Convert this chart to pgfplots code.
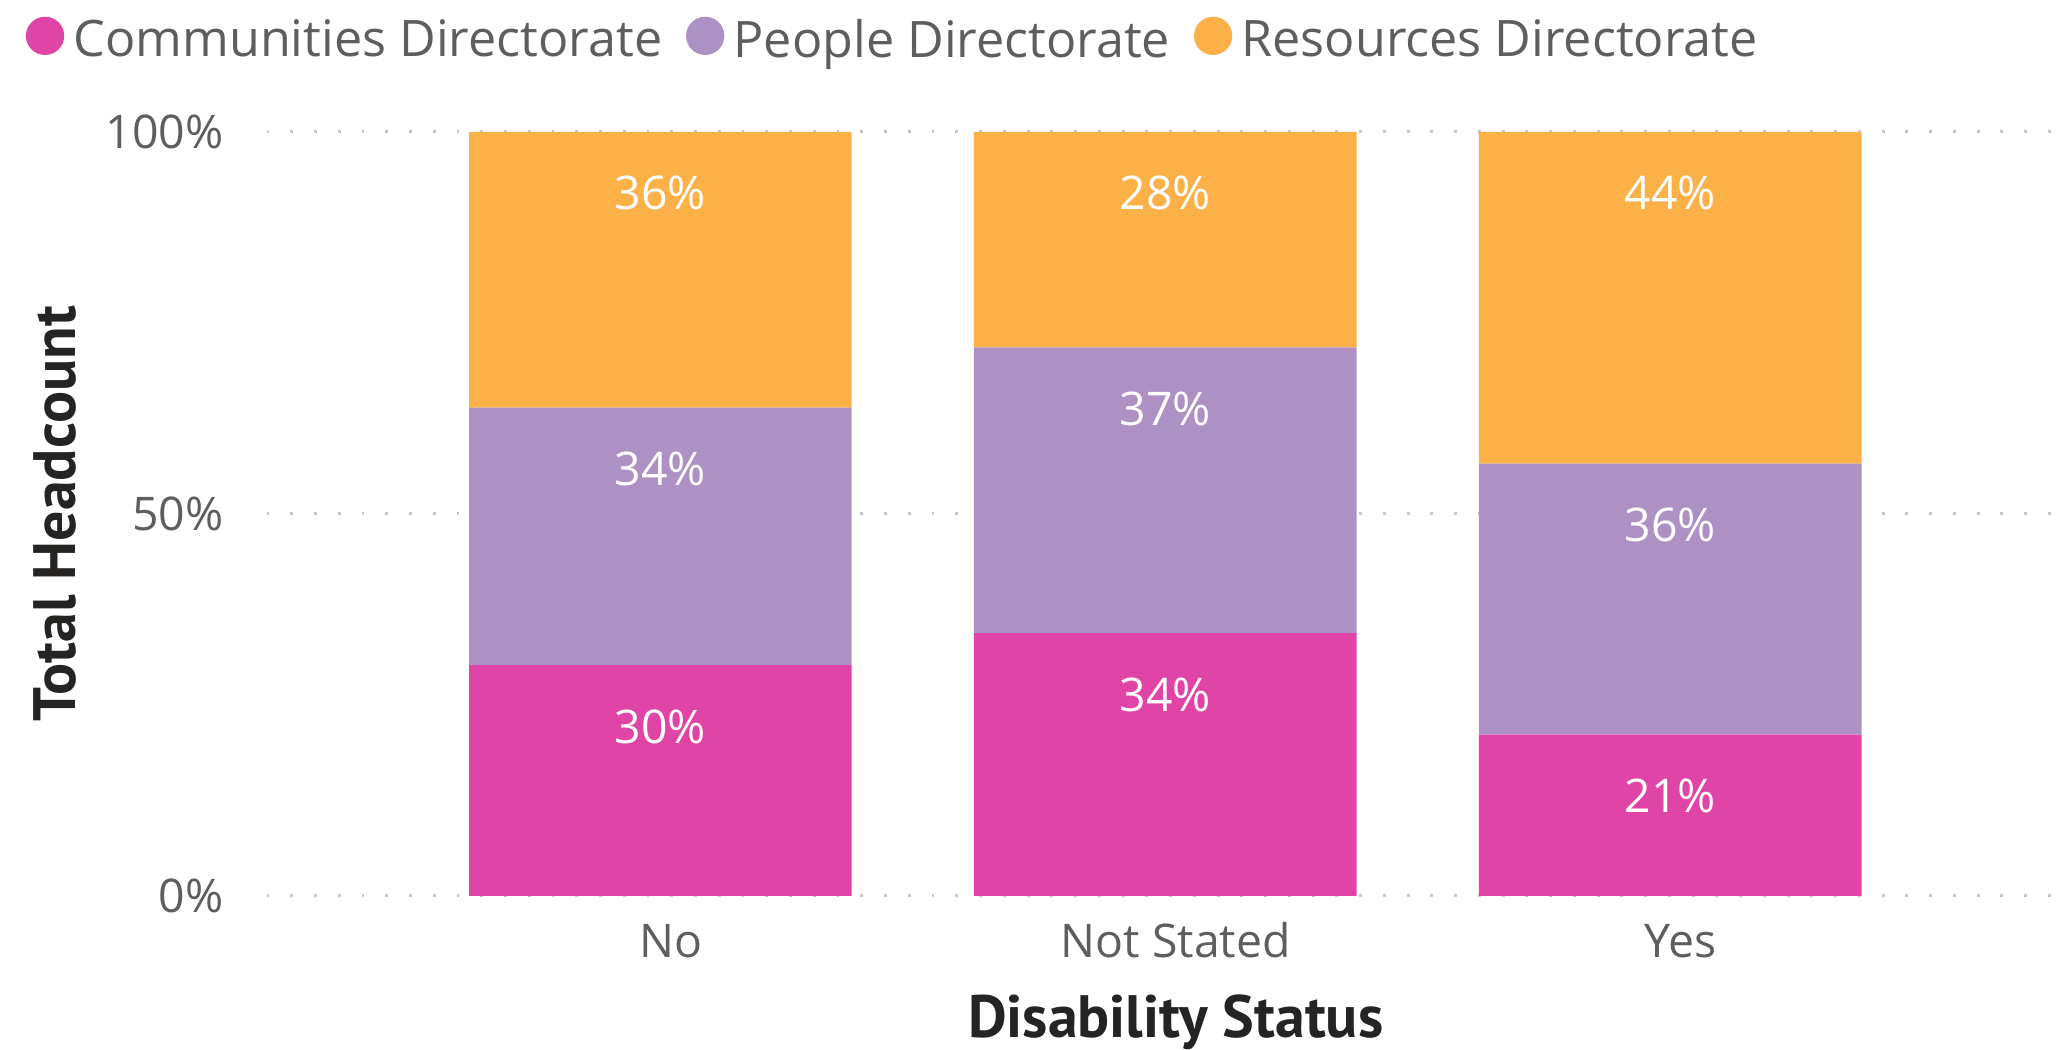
\documentclass[border=0pt]{standalone}
\usepackage{pgfplots}
\pgfplotsset{compat=1.18}
\usepackage{fontspec}
\setmainfont{Open Sans}
\newfontfamily\titlefont{PT Sans}
\definecolor{cpink}{HTML}{E044A7}
\definecolor{cpurple}{HTML}{AD90C4}
\definecolor{corange}{HTML}{FBB148}
\definecolor{tgray}{HTML}{605E5C}
\definecolor{tdark}{HTML}{252423}
\definecolor{ggray}{HTML}{C8C6C4}
\pgfplotsset{
 circ legend/.style={legend image code/.code={\fill[##1] (1.45mm,0.45mm) circle (1.45mm);}},
 common/.style={at={(2.02cm,1.16cm)}, anchor=south west,
   scale only axis, width=13.66cm, height=5.79cm,
   xmin=-0.78, xmax=2.79, ymin=0, ymax=100},
}
\begin{document}
\begin{tikzpicture}
\path[use as bounding box] (0,0) rectangle (15.68cm,7.95cm);
\begin{axis}[
 common,
 ybar stacked, bar width=2.9cm,
 xtick={0,1,2}, xticklabels={No,Not Stated,Yes},
 ytick={0,50,100}, yticklabels={0\%,50\%,100\%},
 axis line style={draw=none}, major tick length=0pt,
 ymajorgrids, grid style={color=ggray, line width=0.22mm, dash pattern=on 0.22mm off 1.58mm},
 tick label style={font=\fontsize{10}{12}\selectfont, text=tgray},
 xticklabel style={anchor=base, yshift=-4.7mm, xshift=0.8mm},
 yticklabel style={anchor=east, inner sep=0pt, xshift=-3.2mm},
 xlabel={Disability Status}, ylabel={Total Headcount},
 every axis x label/.style={at={(axis description cs:0.5,0)}, anchor=base, yshift=-10.7mm, xshift=0.6mm,
   font=\titlefont\bfseries\fontsize{12.9}{15}\selectfont, text=tdark},
 every axis y label/.style={at={(axis description cs:0,0.5)}, anchor=base, xshift=-14.5mm, rotate=90,
   font=\titlefont\bfseries\fontsize{12.9}{15}\selectfont, text=tdark},
 legend columns=-1,
 legend style={draw=none, fill=none, at={(-0.134,1.118)}, anchor=west,
   font=\fontsize{10.85}{13}\selectfont, text=tgray, inner sep=0pt,
   /tikz/every even column/.append style={column sep=1.1mm}},
]
\addplot[fill=cpink, draw=none, circ legend] coordinates {(0,30.2) (1,34.4) (2,21.1)};
\addplot[fill=cpurple, draw=none, circ legend] coordinates {(0,33.7) (1,37.4) (2,35.5)};
\addplot[fill=corange, draw=none, circ legend] coordinates {(0,36.1) (1,28.2) (2,43.4)};
\legend{Communities Directorate, People Directorate, Resources Directorate}
\end{axis}
\begin{axis}[
 common, hide axis,
 point meta=explicit symbolic,
 nodes near coords,
 nodes near coords style={anchor=center, yshift=-4.65mm, text=white, font=\fontsize{10}{12}\selectfont},
]
\addplot[draw=none, mark=none] coordinates {
 (0,30.2)[30\%] (1,34.4)[34\%] (2,21.1)[21\%]
 (0,63.9)[34\%] (1,71.8)[37\%] (2,56.6)[36\%]
 (0,100)[36\%] (1,100)[28\%] (2,100)[44\%]};
\end{axis}
\end{tikzpicture}
\end{document}
